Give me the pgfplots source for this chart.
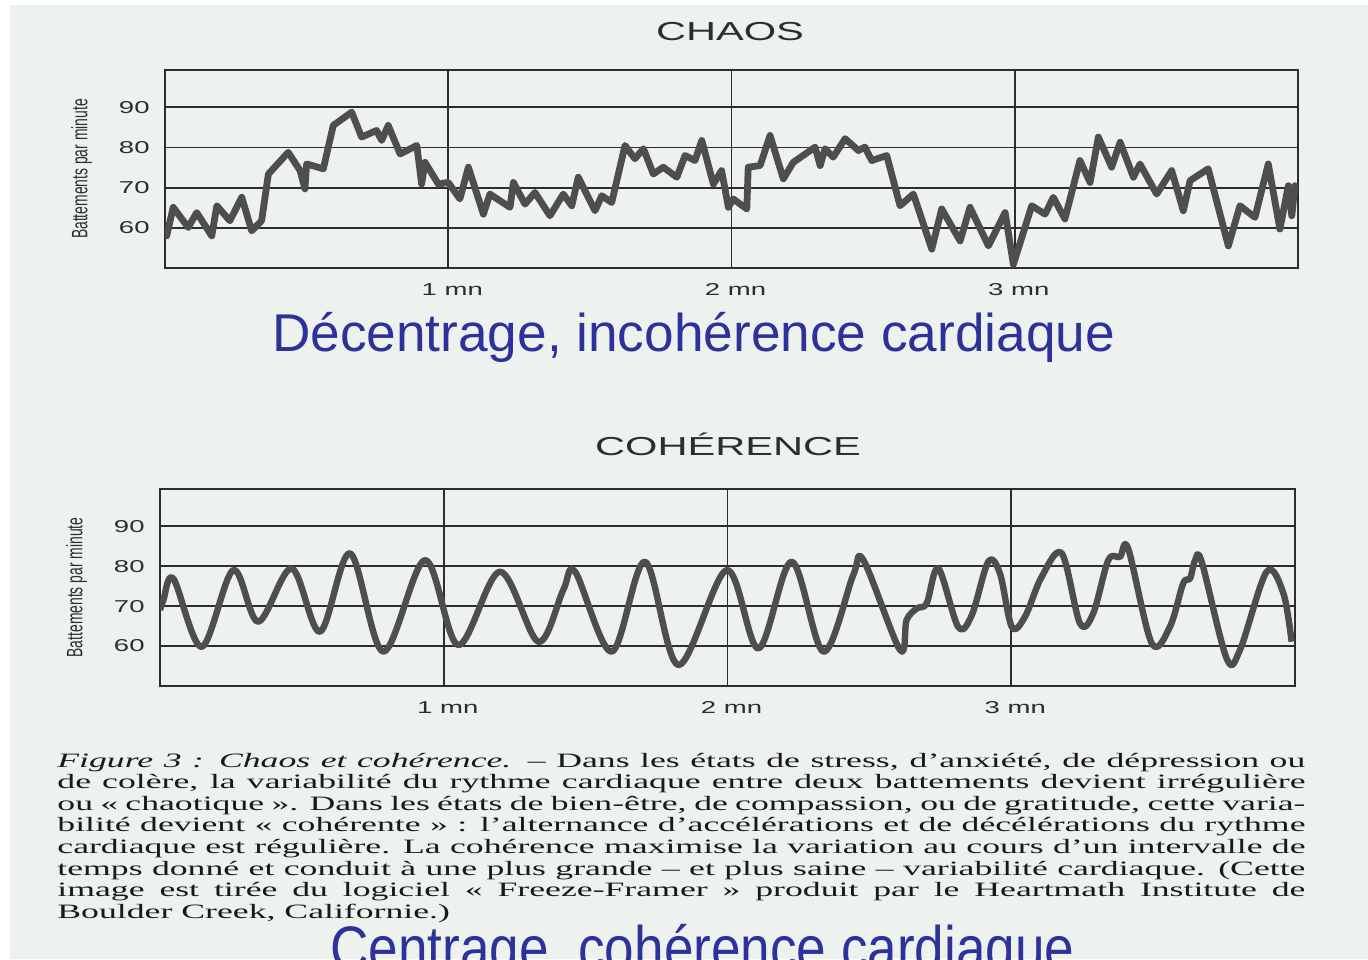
\documentclass[border=0pt]{standalone}
\usepackage{pgfplots}
\pgfplotsset{compat=1.18}
\usepackage{graphicx}
\usepackage{fontspec}
\setmainfont{Liberation Serif}
\newfontfamily\capfont[FakeStretch=1.75]{Liberation Serif}
\newfontfamily\widesans[FakeStretch=1.6]{Liberation Sans}
\newfontfamily\plainsans{Liberation Sans}
\newfontfamily\narrowsans[FakeStretch=0.865]{Liberation Sans}
\definecolor{paper}{RGB}{238,242,238}
\definecolor{ink}{RGB}{45,45,45}
\definecolor{curve}{RGB}{78,78,78}
\definecolor{slideblue}{RGB}{45,50,155}

\pgfplotstableread{
x y
0.006 58
0.029 65.1
0.082 60.1
0.112 63.8
0.165 58
0.183 65.5
0.229 61.75
0.271 67.6
0.306 59.25
0.341 61.75
0.365 73.4
0.435 78.8
0.477 74.25
0.494 69.7
0.500 75.9
0.559 74.7
0.594 85.5
0.659 88.8
0.694 82.6
0.747 84.25
0.765 81.75
0.788 85.5
0.830 78.4
0.889 80.5
0.906 70.9
0.918 76.3
0.965 70.9
1.000 71.3
1.041 67.2
1.071 75.1
1.124 63.4
1.147 68.4
1.218 65.1
1.230 71.3
1.271 65.9
1.306 68.8
1.359 63
1.406 68.4
1.436 65.5
1.459 72.6
1.518 64.25
1.542 68
1.577 66.3
1.624 80.5
1.659 77.2
1.689 79.7
1.724 73.4
1.759 75.1
1.807 72.6
1.836 78
1.871 76.75
1.895 81.75
1.936 70.9
1.965 74.25
1.989 65.1
2.006 67.2
2.054 64.7
2.059 75.1
2.101 75.5
2.136 83
2.183 72.2
2.218 76.3
2.295 80.1
2.313 75.5
2.330 79.7
2.359 77.6
2.401 82.2
2.448 79.25
2.471 80.1
2.495 76.75
2.548 78
2.595 65.5
2.642 68.4
2.707 54.7
2.742 64.7
2.807 56.75
2.842 65.1
2.907 55.5
2.966 63.8
2.995 50.9
3.060 65.5
3.107 63.4
3.136 67.6
3.177 62.2
3.230 76.75
3.266 71.3
3.295 82.6
3.342 75.1
3.372 81.3
3.419 72.6
3.442 75.9
3.501 68.4
3.554 74.25
3.595 64.25
3.619 71.75
3.683 74.7
3.754 55.5
3.795 65.5
3.848 62.6
3.895 75.9
3.936 59.7
3.966 70.5
3.978 63
3.989 70.5
}\chaos

\pgfplotstableread{
x y
0.000 69.0
0.012 71.5
0.047 76.9
0.147 59.8
0.258 79
0.346 66.1
0.464 79.4
0.564 63.6
0.670 83.2
0.787 58.6
0.934 81.5
1.051 60.25
1.198 78.6
1.333 61.1
1.421 74
1.463 78.6
1.592 58.6
1.709 81.1
1.827 55.25
1.997 79
2.109 59.4
2.226 81.1
2.338 58.6
2.443 77.75
2.479 81.5
2.608 59
2.631 66.5
2.667 69.4
2.702 70.7
2.743 79.4
2.813 64.8
2.861 67.75
2.919 81.1
2.960 78.2
3.002 64.8
3.048 67.3
3.107 77.3
3.178 83.2
3.242 65.7
3.289 68.2
3.342 81.5
3.383 82.3
3.412 84.4
3.495 60.7
3.559 64.8
3.606 75.7
3.630 76.9
3.648 81.5
3.671 81.1
3.759 56.9
3.806 59
3.900 78.6
3.959 73.2
3.988 61.1
}\coherence

\pgfplotsset{
  hrvaxis/.style={
    scale only axis,
    xmin=0, xmax=4, ymin=50, ymax=99.3,
    xtick={1,2,3}, xticklabels={1 mn,2 mn,3 mn},
    ytick={60,70,80,90},
    /pgf/number format/assume math mode=true,
    grid=major,
    major grid style={line width=0.9pt, color=ink},
    major tick length=0pt,
    axis line style={line width=1.4pt, color=ink},
    tick label style={color=ink, font=\widesans\fontsize{8.6}{10}\selectfont},
    yticklabel style={inner sep=0pt, anchor=east, xshift=-7.5pt},
    xticklabel style={inner sep=0pt, anchor=north, yshift=-7.5pt, xshift=2pt},
    ylabel={\scalebox{1}[1.6]{\plainsans\fontsize{6.95}{8}\selectfont Battements par minute}},
    ylabel style={at={(axis description cs:-0.064,0.5)}, anchor=south, inner sep=0pt, color=ink},
  }
}

\begin{document}
\begin{tikzpicture}
\clip (0,0) rectangle (684pt,479.5pt);
\fill[white] (0,0) rectangle (684pt,479.5pt);
\fill[paper] (5pt,0) rectangle (684pt,477pt);

\node[anchor=base, inner sep=0, color=ink, font=\widesans\fontsize{13}{15}\selectfont] at (365pt,459pt) {CHAOS};
\node[anchor=base, inner sep=0, color=ink, font=\widesans\fontsize{13}{15}\selectfont] at (364pt,251.5pt) {COHÉRENCE};

\begin{axis}[hrvaxis, width=566.5pt, height=99pt, at={(82.5pt,345.5pt)}, anchor=south west]
\addplot[color=curve, line width=3.4pt, line join=round, line cap=round] table[x=x,y=y] {\chaos};
\end{axis}

\begin{axis}[hrvaxis, width=567.5pt, height=98.5pt, at={(80pt,136.5pt)}, anchor=south west]
\addplot[color=curve, line width=3.2pt, smooth, tension=0.55, line join=round] table[x=x,y=y] {\coherence};
\end{axis}

\node[anchor=base, inner sep=0, color=slideblue, font=\plainsans\fontsize{26.6}{30}\selectfont] at (346.75pt,303.5pt) {Décentrage, incohérence cardiaque};

\node[anchor=base west, inner sep=0, color=black!90, font=\capfont\fontsize{10.2}{10.8}\selectfont] at (28.5pt,96pt) {\parbox[t]{624pt}{%
\makebox[624pt][s]{\textit{Figure 3 : Chaos et cohérence.} – Dans les états de stress, d’anxiété, de dépression ou}\\
\makebox[624pt][s]{de colère, la variabilité du rythme cardiaque entre deux battements devient irrégulière}\\
\makebox[624pt][s]{ou «~chaotique~». Dans les états de bien-être, de compassion, ou de gratitude, cette varia-}\\
\makebox[624pt][s]{bilité devient «~cohérente~» : l’alternance d’accélérations et de décélérations du rythme}\\
\makebox[624pt][s]{cardiaque est régulière. La cohérence maximise la variation au cours d’un intervalle de}\\
\makebox[624pt][s]{temps donné et conduit à une plus grande – et plus saine – variabilité cardiaque. (Cette}\\
\makebox[624pt][s]{image est tirée du logiciel «~Freeze-Framer~» produit par le Heartmath Institute de}\\
Boulder Creek, Californie.)}};

\node[anchor=base, inner sep=0, color=slideblue, font=\narrowsans\fontsize{30.7}{34}\selectfont] at (351.25pt,-5pt) {Centrage, cohérence cardiaque};
\end{tikzpicture}
\end{document}
